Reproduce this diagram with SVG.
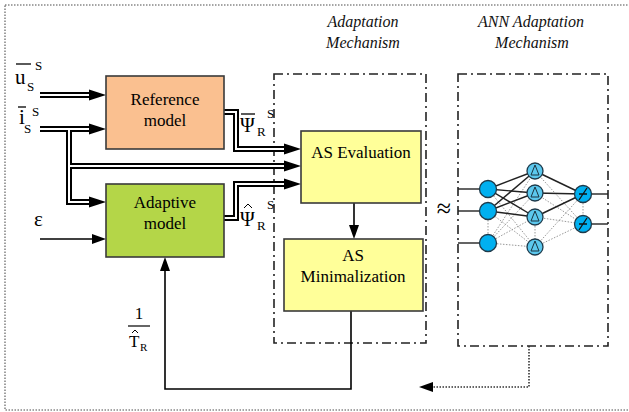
<svg xmlns="http://www.w3.org/2000/svg" width="629" height="412" viewBox="0 0 629 412">
<style>
.f{font-family:"Liberation Serif","Times New Roman","DejaVu Serif",serif}
.t{font-family:"Liberation Serif","Times New Roman","DejaVu Serif",serif;font-size:17px;fill:#000}
.it{font-family:"Liberation Serif","Times New Roman","DejaVu Serif",serif;font-size:16px;font-style:italic;fill:#111}
.box{stroke:#3a3a3a;stroke-width:1.6}
.dd{fill:none;stroke:#222;stroke-width:1.6;stroke-dasharray:9 4 2 4}
.blk{fill:none;stroke:#000;stroke-width:6}
.wht{fill:none;stroke:#fff;stroke-width:2}
.sl{fill:none;stroke:#000;stroke-width:1.6}
.sol{stroke:#222;stroke-width:1.4}
.dot{stroke:#999;stroke-width:1;stroke-dasharray:1.5 1.5}
.neu{stroke:#1f3a4a;stroke-width:1.3}
.hat{fill:none;stroke:#000;stroke-width:1}
</style>
<defs>
<marker id="ah" markerUnits="userSpaceOnUse" markerWidth="18" markerHeight="12" refX="0" refY="6" orient="auto" viewBox="0 0 18 12">
<path d="M0,0.5 L17,6 L0,11.5 z" fill="#000"/>
</marker>
<marker id="as" markerUnits="userSpaceOnUse" markerWidth="14" markerHeight="12" refX="0" refY="6" orient="auto" viewBox="0 0 14 12">
<path d="M0,1 L14,6 L0,11 z" fill="#000"/>
</marker>
</defs>
<rect x="5" y="5" width="640" height="405" fill="none" stroke="#888" stroke-width="1.6" stroke-dasharray="1.5 1.5"/>

<g id="adaptation-mechanism-frame">
<rect class="dd" x="274" y="74" width="152" height="269"/>
<text class="it" x="363" y="27" text-anchor="middle">Adaptation</text>
<text class="it" x="363" y="48" text-anchor="middle">Mechanism</text>
</g>
<g id="ann-frame">
<rect class="dd" x="458" y="74" width="150" height="272"/>
<text class="it" x="531" y="27" text-anchor="middle">ANN Adaptation</text>
<text class="it" x="532" y="48" text-anchor="middle">Mechanism</text>
</g>

<g id="connectors">
<g>
<path class="blk" d="M40,95 H89" marker-end="url(#ah)"/>
<path class="blk" d="M40,129 H89" marker-end="url(#ah)"/>
<path class="blk" d="M69,129 V202 H89" marker-end="url(#ah)"/>
<path class="blk" d="M69,166 H284" marker-end="url(#ah)"/>
<path class="blk" d="M224,112 H236 V149 H284" marker-end="url(#ah)"/>
<path class="blk" d="M224,218 H236 V184 H284" marker-end="url(#ah)"/>
<path class="wht" d="M40,95 H89"/>
<path class="wht" d="M40,129 H89"/>
<path class="wht" d="M69,129 V202 H89"/>
<path class="wht" d="M69,166 H284"/>
<path class="wht" d="M224,112 H236 V149 H284"/>
<path class="wht" d="M224,218 H236 V184 H284"/>
</g>
<path class="sl" d="M40,239 H92" marker-end="url(#as)"/>
<path class="sl" d="M354,203 V225" marker-end="url(#as)"/>
<path class="sl" d="M351,311 V389 H165 V271" marker-end="url(#as)"/>
<path d="M529,346 V387 H433" fill="none" stroke="#333" stroke-width="1.6" stroke-dasharray="1.5 1.5" marker-end="url(#as)"/>
</g>

<g id="reference-model">
<rect class="box" x="106" y="76" width="118" height="73" fill="#FAC090"/>
<text class="t" x="165" y="105" text-anchor="middle">Reference</text>
<text class="t" x="165" y="126" text-anchor="middle">model</text>
</g>
<g id="adaptive-model">
<rect class="box" x="106" y="184" width="118" height="73" fill="#B4D648"/>
<text class="t" x="165" y="208" text-anchor="middle">Adaptive</text>
<text class="t" x="165" y="229" text-anchor="middle">model</text>
</g>
<g id="as-evaluation">
<rect class="box" x="301" y="131" width="120" height="72" fill="#FFFF99"/>
<text class="t" x="361" y="158" text-anchor="middle">AS Evaluation</text>
</g>
<g id="as-minimalization">
<rect class="box" x="284" y="239" width="139" height="72" fill="#FFFF99"/>
<text class="t" x="353" y="261" text-anchor="middle">AS</text>
<text class="t" x="353" y="282" text-anchor="middle">Minimalization</text>
</g>

<g id="labels" class="f" fill="#000">
<text x="15" y="84" font-size="21">u</text>
<line x1="16" y1="64" x2="31" y2="64" stroke="#000" stroke-width="1.3"/>
<text x="27" y="91" font-size="13">S</text>
<text x="35" y="70" font-size="13">S</text>
<text x="19" y="124" font-size="21">i</text>
<line x1="18" y1="107" x2="26" y2="107" stroke="#000" stroke-width="1.3"/>
<text x="24" y="133" font-size="13">S</text>
<text x="32" y="116" font-size="13">S</text>
<text x="34" y="226" font-size="21">ε</text>
<text x="240" y="132" font-size="20">Ψ</text>
<line x1="241" y1="114" x2="255" y2="114" stroke="#000" stroke-width="1.3"/>
<text x="257" y="136" font-size="13">R</text>
<text x="267" y="118" font-size="13">S</text>
<text x="240" y="226" font-size="20">Ψ</text>
<path class="hat" d="M244,208 L248,204 L252,208"/>
<text x="257" y="230" font-size="13">R</text>
<text x="267" y="209" font-size="13">S</text>
<text x="139" y="319" font-size="17" text-anchor="middle">1</text>
<line x1="128" y1="326" x2="150" y2="326" stroke="#000" stroke-width="1.2"/>
<text x="129" y="347" font-size="17">T</text>
<path class="hat" d="M132,333 L135,330 L138,333"/>
<text x="140" y="351" font-size="11">R</text>
<text x="444" y="217" font-size="26" text-anchor="middle">≈</text>
</g>

<g id="ann-network">
<g fill="none">
<line class="sol" x1="458" y1="189" x2="488" y2="189"/>
<line class="sol" x1="458" y1="211" x2="488" y2="211"/>
<line class="sol" x1="458" y1="243" x2="488" y2="243"/>
<line class="sol" x1="583" y1="194" x2="608" y2="194"/>
<line class="sol" x1="583" y1="224" x2="608" y2="224"/>
<line class="dot" x1="488" y1="211" x2="488" y2="243"/>
<line class="dot" x1="583" y1="194" x2="583" y2="224"/>
<line class="dot" x1="535" y1="217" x2="535" y2="247"/>
<line class="dot" x1="488" y1="243" x2="535" y2="171"/>
<line class="dot" x1="488" y1="243" x2="535" y2="193"/>
<line class="dot" x1="488" y1="243" x2="535" y2="217"/>
<line class="dot" x1="488" y1="243" x2="535" y2="247"/>
<line class="dot" x1="488" y1="211" x2="535" y2="247"/>
<line class="dot" x1="488" y1="189" x2="535" y2="247"/>
<line class="dot" x1="535" y1="171" x2="583" y2="224"/>
<line class="dot" x1="535" y1="193" x2="583" y2="224"/>
<line class="dot" x1="535" y1="217" x2="583" y2="224"/>
<line class="dot" x1="535" y1="247" x2="583" y2="194"/>
<line class="dot" x1="535" y1="247" x2="583" y2="224"/>
<line class="sol" x1="488" y1="189" x2="535" y2="171"/>
<line class="sol" x1="488" y1="189" x2="535" y2="193"/>
<line class="sol" x1="488" y1="189" x2="535" y2="217"/>
<line class="sol" x1="488" y1="211" x2="535" y2="171"/>
<line class="sol" x1="488" y1="211" x2="535" y2="193"/>
<line class="sol" x1="488" y1="211" x2="535" y2="217"/>
<line class="sol" x1="535" y1="171" x2="583" y2="194"/>
<line class="sol" x1="535" y1="193" x2="583" y2="194"/>
<line class="sol" x1="535" y1="217" x2="583" y2="194"/>
</g>
<g class="neu" fill="#00B0F0">
<circle cx="488" cy="189" r="8.5"/>
<circle cx="488" cy="211" r="8.5"/>
<circle cx="488" cy="243" r="8.5"/>
</g>
<g class="neu" fill="#5CC8EE">
<circle cx="535" cy="171" r="8"/>
<circle cx="535" cy="193" r="8"/>
<circle cx="535" cy="217" r="8"/>
<circle cx="535" cy="247" r="8"/>
</g>
<g fill="none" stroke="#1a3340" stroke-width="1">
<path d="M531,175 L535,165 L539,175 M531,175 H539"/>
<path d="M531,197 L535,187 L539,197 M531,197 H539"/>
<path d="M531,221 L535,211 L539,221 M531,221 H539"/>
<path d="M531,251 L535,241 L539,251 M531,251 H539"/>
</g>
<g class="neu" fill="#00B0F0">
<circle cx="583" cy="194" r="8.5"/>
<circle cx="583" cy="224" r="8.5"/>
</g>
<g fill="none" stroke="#111" stroke-width="1.3">
<path d="M579,200 L587,188 M579,194 H587"/>
<path d="M579,230 L587,218 M579,224 H587"/>
</g>
</g>
</svg>
